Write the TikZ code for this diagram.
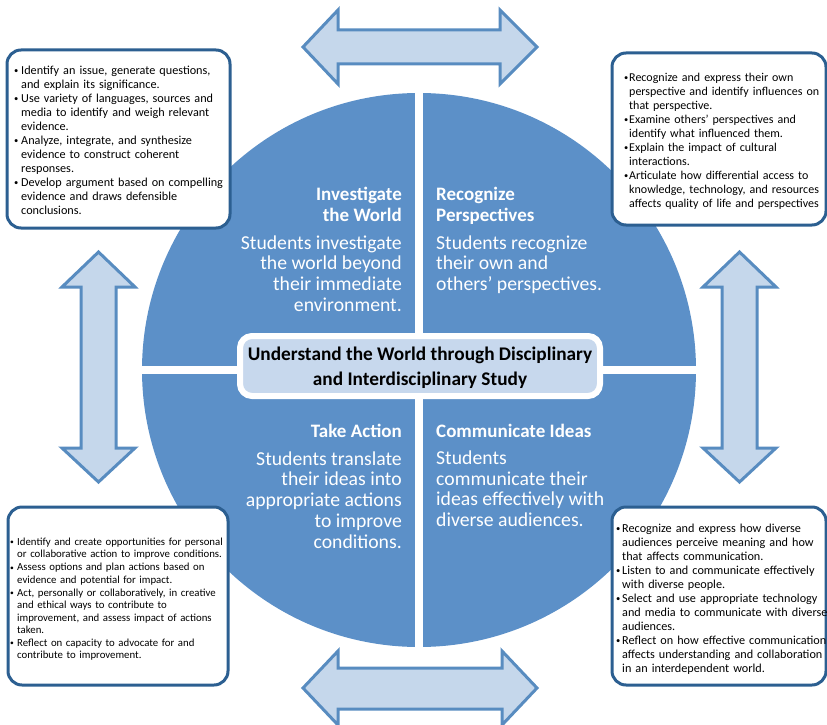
\documentclass[tikz,border=0pt]{standalone}
\usepackage{graphicx}
\usepackage{fontspec}
\setmainfont{Carlito}
\definecolor{circblue}{RGB}{92,144,200}
\definecolor{arrfill}{RGB}{197,215,235}
\definecolor{arrline}{RGB}{88,140,192}
\definecolor{boxline}{RGB}{44,95,145}
\definecolor{cenfill}{RGB}{199,216,237}
\newlength\bw
\newcommand{\bitem}[1]{\par\noindent\hangindent=\bw\hangafter=1\makebox[\bw][l]{\raisebox{0.8pt}{\scalebox{0.7}{\textbullet}}}#1\par}
\tikzset{
  dblarrow/.style={draw=arrline, fill=arrfill, line width=3pt, line join=miter},
  infobox/.style={draw=boxline, fill=white, line width=3pt, rounded corners=14pt, inner sep=0pt},
  boxtext/.style={anchor=west, inner sep=0pt, text width=225pt},
  qtitle/.style={text=white, inner sep=0pt, font=\fontsize{19}{21.5}\selectfont\bfseries},
  qbody/.style={text=white, inner sep=0pt, font=\fontsize{19.7}{20.8}\selectfont},
}
\begin{document}
\begin{tikzpicture}[x=1pt,y=-1pt]
\useasboundingbox (0,0) rectangle (827,725);
% circle with quadrant gaps
\fill[circblue] (419,370) circle (277pt);
\draw[white, line width=8pt] (419,88) -- (419,652);
\draw[white, line width=8pt] (137,370) -- (701,370);
% center box
\node[draw=white, fill=cenfill, line width=6pt, rounded corners=12pt,
      minimum width=360pt, minimum height=60pt, inner sep=0pt] (center) at (420,366) {};
\node[inner sep=0pt, align=center, font=\fontsize{19.3}{25}\selectfont\bfseries] (centertext) at (420,368)
  {Understand the World through Disciplinary\\and Interdisciplinary Study};
% quadrant texts
\node[qtitle, anchor=north east, align=right] (t1) at (402,186.5) {Investigate\\the World};
\node[qbody, anchor=north east, align=right] (b1) at (402,235.3) {Students investigate\\the world beyond\\their immediate\\environment.};
\node[qtitle, anchor=north west, align=left] (t2) at (436,186.5) {Recognize\\Perspectives};
\node[qbody, anchor=north west, align=left] (b2) at (436,235.3) {Students recognize\\their own and\\others’ perspectives.};
\node[qtitle, anchor=north east, align=right] (t3) at (402,423.5) {Take Action};
\node[qbody, anchor=north east, align=right] (b3) at (402,451.3) {Students translate\\their ideas into\\appropriate actions\\to improve\\conditions.};
\node[qtitle, anchor=north west, align=left] (t4) at (436,423.5) {Communicate Ideas};
\node[qbody, anchor=north west, align=left] (b4) at (436,450.5) {Students\\communicate their\\ideas effectively with\\diverse audiences.};
% info boxes
\node[infobox, minimum width=223pt, minimum height=178pt] (tl) at (118.5,139) {};
\node[boxtext, font=\fontsize{12.2}{14}\selectfont] (tltext) at (14,137.5) {\setlength\bw{7pt}%
\bitem{Identify an issue, generate questions,\newline and explain its significance.}
\bitem{Use variety of languages, sources and\newline media to identify and weigh relevant\newline evidence.}
\bitem{Analyze, integrate, and synthesize\newline evidence to construct coherent\newline responses.}
\bitem{Develop argument based on compelling\newline evidence and draws defensible\newline conclusions.}};
\node[infobox, minimum width=214pt, minimum height=172pt] (tr) at (719,139) {};
\node[boxtext, font=\fontsize{12}{14}\selectfont] (trtext) at (624,138) {\setlength\bw{5pt}%
\bitem{Recognize and express their own\newline perspective and identify influences on\newline that perspective.}
\bitem{Examine others’ perspectives and\newline identify what influenced them.}
\bitem{Explain the impact of cultural\newline interactions.}
\bitem{Articulate how differential access to\newline knowledge, technology, and resources\newline affects quality of life and perspectives}};
\node[infobox, minimum width=220pt, minimum height=178pt] (bl) at (118,596) {};
\node[boxtext, font=\fontsize{10.8}{12.4}\selectfont] (bltext) at (10,596.5) {\setlength\bw{7pt}\setlength\parskip{0.6pt}%
\bitem{Identify and create opportunities for personal\newline or collaborative action to improve conditions.}
\bitem{Assess options and plan actions based on\newline evidence and potential for impact.}
\bitem{Act, personally or collaboratively, in creative\newline and ethical ways to contribute to\newline improvement, and assess impact of actions\newline taken.}
\bitem{Reflect on capacity to advocate for and\newline contribute to improvement.}};
\node[infobox, minimum width=214pt, minimum height=178pt] (br) at (719,596) {};
\node[boxtext, font=\fontsize{12.2}{14}\selectfont] (brtext) at (616,596) {\setlength\bw{6pt}%
\bitem{Recognize and express how diverse\newline audiences perceive meaning and how\newline that affects communication.}
\bitem{Listen to and communicate effectively\newline with diverse people.}
\bitem{Select and use appropriate technology\newline and media to communicate with diverse\newline audiences.}
\bitem{Reflect on how effective communication\newline affects understanding and collaboration\newline in an interdependent world.}};
% double arrows
\draw[dblarrow] (303,47) -- (338,10) -- (338,30) -- (500,30) -- (500,10) -- (537,47)
  -- (500,84) -- (500,64) -- (338,64) -- (338,84) -- cycle;
\draw[dblarrow] (303,688) -- (338,651) -- (338,668) -- (502,668) -- (502,651) -- (537,688)
  -- (502,725) -- (502,709) -- (338,709) -- (338,725) -- cycle;
\draw[dblarrow] (98.5,252) -- (135,287) -- (116,287) -- (116,448) -- (135,448) -- (98.5,482)
  -- (62,448) -- (81,448) -- (81,287) -- (62,287) -- cycle;
\draw[dblarrow] (739.5,252) -- (776,287) -- (757,287) -- (757,448) -- (776,448) -- (739.5,482)
  -- (703,448) -- (722,448) -- (722,287) -- (703,287) -- cycle;
\end{tikzpicture}
\end{document}
